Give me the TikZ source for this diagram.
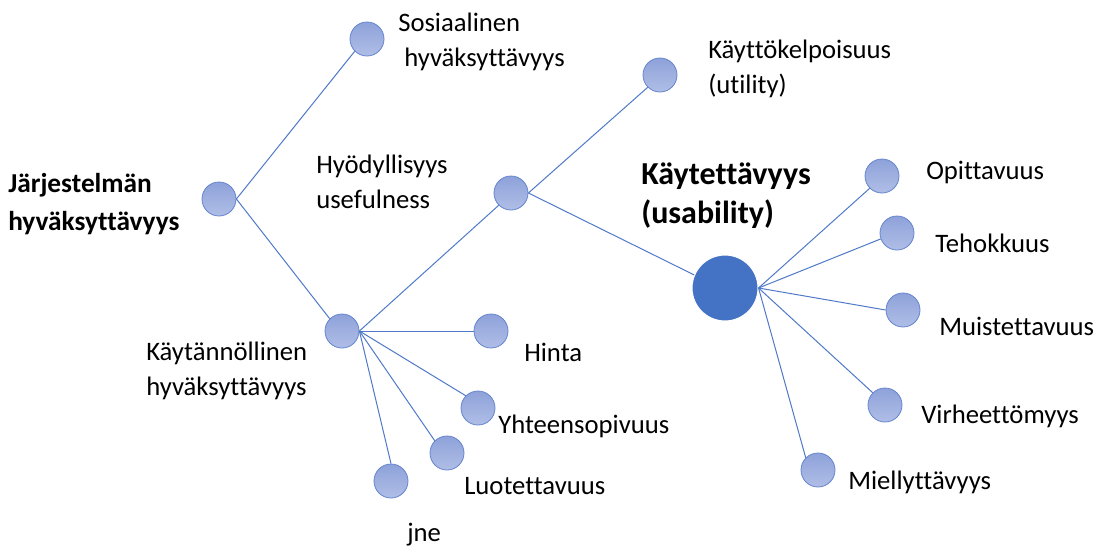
\documentclass[tikz,border=0pt]{standalone}
\usepackage{fontspec}
\setmainfont[Ligatures=NoCommon]{Carlito}
\definecolor{dottop}{RGB}{142,162,218}
\definecolor{dotbot}{RGB}{176,190,230}
\definecolor{dotedge}{RGB}{100,132,206}
\definecolor{bigblue}{RGB}{68,114,196}
\definecolor{lineblue}{RGB}{80,122,200}
\begin{document}
\begin{tikzpicture}[x=0.75pt,y=-0.75pt,
  dot/.style={circle,minimum size=25.5pt,inner sep=0pt,draw=dotedge,line width=0.6pt,top color=dottop,bottom color=dotbot},
  big/.style={circle,minimum size=49.5pt,inner sep=0pt,fill=bigblue,draw=white,line width=0.8pt},
  lbl/.style={anchor=west,align=left,inner sep=0pt,font=\fontsize{20}{26}\selectfont},
  blbl/.style={anchor=west,align=left,inner sep=0pt,font=\bfseries\fontsize{20.5}{29}\selectfont},
  bigl/.style={anchor=west,align=left,inner sep=0pt,font=\bfseries\fontsize{24}{29}\selectfont},
  con/.style={draw=lineblue,line width=0.75pt}]
\useasboundingbox[fill=white] (0,0) rectangle (1096,550);
% circles
\node[dot] (J) at (219,199) {};
\node[dot] (S) at (367,39) {};
\node[dot] (K) at (342,331) {};
\node[dot] (U) at (511,193) {};
\node[dot] (C) at (660,75) {};
\node[dot] (H) at (491,331) {};
\node[dot] (Y) at (478,408) {};
\node[dot] (L) at (447,453) {};
\node[dot] (N) at (391,481) {};
\node[big] (B) at (725,288) {};
\node[dot] (O) at (882,176) {};
\node[dot] (T) at (897,233) {};
\node[dot] (M) at (903,310) {};
\node[dot] (V) at (885,405) {};
\node[dot] (E) at (818,470) {};
% connectors
\draw[con] (J.east) -- (S.south west);
\draw[con] (J.east) -- (K.north west);
\draw[con] (K.east) -- (U.south west);
\draw[con] (K.east) -- (H.west);
\draw[con] (K.east) -- (Y.north west);
\draw[con] (K.east) -- (L.north west);
\draw[con] (K.east) -- (N.north);
\draw[con] (U.east) -- (C.south west);
\draw[con] (U.east) -- (B.157);
\draw[con] (B.east) -- (O.south west);
\draw[con] (B.east) -- (T.200);
\draw[con] (B.east) -- (M.west);
\draw[con] (B.east) -- (V.north west);
\draw[con] (B.east) -- (E.north west);
% labels
\node[lbl] (tS) at (398,42) {Sosiaalinen\\\ hyväksyttävyys};
\node[blbl] (tJ) at (8,204) {Järjestelmän\\hyväksyttävyys};
\node[lbl] (tU) at (316,182) {Hyödyllisyys\\usefulness};
\node[lbl] (tC) at (708,69) {Käyttökelpoisuus\\(utility)};
\node[bigl] (tB) at (641,196) {Käytettävyys\\(usability)};
\node[lbl] (tO) at (926,172) {Opittavuus};
\node[lbl] (tT) at (935,243) {Tehokkuus};
\node[lbl] (tM) at (939,326) {Muistettavuus};
\node[lbl] (tV) at (921,416) {Virheettömyys};
\node[lbl] (tE) at (848,482) {Miellyttävyys};
\node[lbl] (tH) at (524,352) {Hinta};
\node[lbl] (tY) at (498,426) {Yhteensopivuus};
\node[lbl] (tL) at (464,486) {Luotettavuus};
\node[lbl] (tK) at (146,371) {Käytännöllinen\\hyväksyttävyys};
\node[lbl] (tN) at (407,535) {jne};
\end{tikzpicture}
\end{document}
